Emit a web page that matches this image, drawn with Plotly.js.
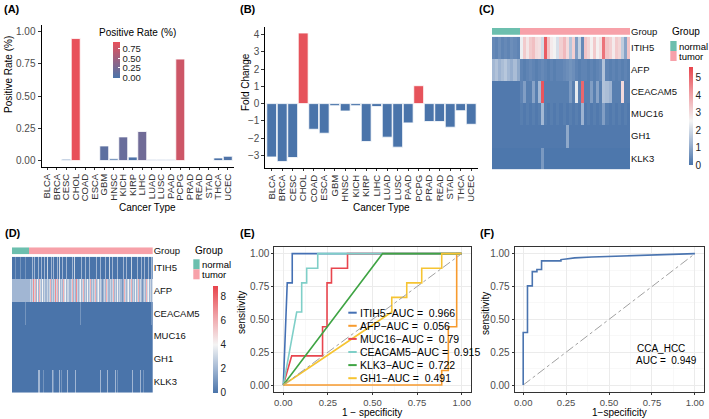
<!DOCTYPE html>
<html><head><meta charset="utf-8">
<script src="https://cdn.plot.ly/plotly-3.0.1.min.js"></script>
<style>html,body{margin:0;padding:0;background:#fff;}#chart{width:709px;height:419px;}</style>
</head><body><div id="chart"></div>
<script>
// ---------------- DATA ----------------
// Panels A & B
const cancers = ['BLCA','BRCA','CESC','CHOL','COAD','ESCA','GBM','HNSC','KICH','KIRP','LIHC','LUAD','LUSC','PAAD','PCPG','PRAD','READ','STAD','THCA','UCEC'];
const positiveRate = [0,0,0.01,0.945,0,0,0.113,0.013,0.183,0.027,0.225,0.006,0.006,0.006,0.786,0,0,0,0.02,0.033];
const foldChange = [-3.1,-3.36,-3.13,4.1,-1.49,-1.72,-0.12,-0.43,-0.12,-2.2,-0.17,-1.95,-2.53,-1.12,1.04,-1.04,-1.04,-1.37,-0.41,-1.2];

// Panel C (CHOL heatmap: 9 normal + 36 tumor columns)
const genes = ['ITIH5','AFP','CEACAM5','MUC16','GH1','KLK3'];
const cholNormalN = 9, cholTumorN = 36;
const cholITIH5 = [0.4,0.3,0.5,0.3,0.4,0.3,0.5,0.4,0.3,
  2.4,3.3,2.8,3.3,3.5,3.0,2.9,2.0,5.2,3.4,2.7,2.5,2.1,3.2,3.6,3.0,1.6,3.2,0.8,1.8,0.4,3.4,3.1,2.6,3.3,2.6,2.9,4.8,3.4,3.2,2.7,3.3,3.1,1.7,0.9,3.4];
const cholAFP = [1.3,1.5,1.2,1.4,1.6,1.3,1.1,1.4,1.0,
  0.3,0.2,0.3,0.4,0.3,0.2,0.3,0.4,0.3,0.2,0.3,0.2,0.3,0.3,0.4,0.5,0.6,0.5,0.3,0.2,0.3,0.3,0.2,0.3,0.2,0.3,0.4,1.5,0.3,0.2,0.3,0.2,0.3,0.2,0.3,0.2];
const cholCEACAM5 = [0.1,0.1,0.1,0.1,0.1,0.1,0.1,0.1,0.1,
  0.3,0.8,0.2,0.2,0.9,0.2,1.3,5.3,0.2,0.2,0.2,0.2,0.2,0.2,0.2,0.2,0.7,0.2,2.3,0.2,5.0,0.2,0.2,0.8,0.2,0.9,0.2,1.5,1.4,1.2,0.2,0.2,0.2,3.0,0.2,0.2];
const cholMUC16 = [0.1,0.1,0.1,0.1,0.1,0.1,0.1,0.1,0.1,
  0.2,0.1,0.2,0.1,0.2,0.1,0.2,1.3,0.2,0.1,0.2,0.1,0.2,0.1,0.2,0.1,0.2,0.1,0.2,0.1,1.2,0.1,0.2,0.1,0.2,0.1,0.2,0.8,0.2,0.1,0.2,0.1,0.2,0.1,0.2,0.1];
const cholGH1 = [0.1,0.1,0.1,0.1,0.1,0.1,0.1,0.1,0.1,
  0.1,0.1,0.1,0.1,0.1,0.1,0.1,0.1,0.1,0.1,0.1,0.1,0.1,0.1,0.1,1.0,0.1,0.1,0.1,0.1,0.1,0.1,0.1,0.1,0.1,0.1,0.1,0.1,0.1,0.1,0.1,0.1,0.1,0.1,0.1,0.1];
const cholKLK3 = [0.05,0.05,0.05,0.05,0.05,0.05,0.05,0.05,0.05,
  0.05,0.05,0.05,0.05,0.05,0.05,0.05,0.7,0.05,0.05,0.05,0.05,0.05,0.05,0.05,0.05,0.05,0.05,0.05,0.05,0.05,0.05,0.05,0.05,0.05,0.05,0.05,0.05,0.05,0.05,0.05,0.05,0.05,0.05,0.05,0.05];

// Panel D (LIHC heatmap, read as visible stripes: 17 normal + 124 tumor columns, one digit per column = value)
const lihcNormalN = 17, lihcTumorN = 124;
const lihcITIH5 = ['0001000010','0001000000','2020002002','0020030002','0200020300','2000200000','2030000002','0002000200','0000200020','0002000300','2000020000','0200200003','0000020002','0020002002','0'].join('');
const lihcAFP = ['2222222222','2222222232','3736242632','4232232362','3237362423','2634233223','6232732342','3623242362','3236234232','1232632232','3623242322','1263234236','2324236232','1232634232','3'].join('');
const lihcCEACAM5 = ['0000000000','0001000000','0000000000','0000000000','0000000000','0000000000','0000000010','0000000000','0000000000','0000000000','0000000000','0000000000','0000000000','0000000001','0'].join('');
const lihcMUC16 = ['0000000000','0000000000','0000000000','0000000000','0000000000','0000000000','0000000000','0000000000','0000000000','0000000000','0000000000','0000000000','0000000000','0000000000','0'].join('');
const lihcGH1 = ['0000000000','0000000000','0000000000','0000000000','0000000000','0000000000','0000000000','0000000000','0000000000','0000000000','0000000000','0000000000','0000000000','0000000000','0'].join('');
const lihcKLK3 = ['0000000000','0000000000','0000002200','0100000000','2100000201','0000020000','0002000000','0000000000','0000000020','0000020000','0002010000','0000000000','2000000020','0100000000','0'].join('');

// Panel E (ROC curves)
const rocLabels = ['ITIH5','AFP','MUC16','CEACAM5','KLK3','GH1'];
const rocAUC = [0.966,0.056,0.79,0.915,0.722,0.491];
const fprITIH5 = [0,0.022,0.05,0.05,1];
const tprITIH5 = [0,0.778,0.778,1,1];
const fprAFP = [0,0.888,0.888,0.925,0.925,0.972,0.972,1];
const tprAFP = [0,0,0.111,0.111,0.444,0.444,1,1];
const fprMUC16 = [0,0.047,0.22,0.22,0.245,0.245,0.27,0.27,0.36,0.36,1];
const tprMUC16 = [0,0.222,0.222,0.444,0.444,0.778,0.778,0.889,0.889,1,1];
const fprCEACAM5 = [0,0.075,0.103,0.103,0.131,0.131,0.193,0.193,1];
const tprCEACAM5 = [0,0.556,0.556,0.778,0.778,0.889,0.889,1,1];
const fprKLK3 = [0,0.556,1];
const tprKLK3 = [0,1,1];
const fprGH1 = [0,0.608,0.608,0.692,0.692,0.776,0.776,0.888,0.888,1];
const tprGH1 = [0,0.556,0.667,0.667,0.778,0.778,0.889,0.889,1,1];

// Panel F (CCA vs HCC ROC)
const fprF = [0,0,0.025,0.025,0.053,0.053,0.08,0.08,0.107,0.107,0.22,0.22,0.25,0.3,0.4,0.5,0.6,0.7,0.8,0.9,1];
const tprF = [0,0.4,0.4,0.755,0.755,0.863,0.863,0.88,0.88,0.945,0.945,0.955,0.96,0.968,0.975,0.98,0.983,0.99,0.994,0.997,1];
const aucF = 0.949;

// ---------------- STYLE ----------------
const W = 709, H = 419;
const px = x => x / W, py = y => 1 - y / H;
const FONT = 'Liberation Sans, Arial, Helvetica, sans-serif';
const TICK = '#4D4D4D';
const BLUE = '#4A74AA', RED = '#E8505A';
const heatScale = [[0,'#4A74AA'],[0.22,'#9FB5D2'],[0.45,'#F4F4F4'],[0.72,'#F0A2A7'],[1,'#E8434B']];
const groupScale = [[0,'#6CBFAE'],[0.5,'#6CBFAE'],[0.5,'#F7A1A9'],[1,'#F7A1A9']];
const rocColors = ['#4470B4','#F79B2E','#E8454E','#7FCFC8','#3FA444','#F6C432'];

const traces = [];
// A
traces.push({type:'bar', x:cancers, y:positiveRate, xaxis:'x', yaxis:'y',
  marker:{color:positiveRate, colorscale:[[0,BLUE],[1,RED]], cmin:0, cmax:Math.max(...positiveRate),
    line:{color:'#fff', width:0.8}, showscale:true,
    colorbar:{x:px(113), xanchor:'left', y:py(77.5), yanchor:'bottom', len:36, lenmode:'pixels',
      thickness:7, thicknessmode:'pixels', xpad:0, ypad:0, outlinewidth:0,
      tickvals:[0,0.25,0.5,0.75], ticktext:['0.00','0.25','0.50','0.75'],
      ticks:'inside', ticklen:2, tickcolor:'#fff', tickfont:{size:9.5, color:'#222', family:FONT}}}});
// B
traces.push({type:'bar', x:cancers, y:foldChange, xaxis:'x2', yaxis:'y2',
  marker:{color:foldChange.map(v => v > 0 ? '#E6535B' : BLUE), line:{color:'#fff', width:0.8}}});

// C
const groupC = Array(cholNormalN).fill(0).concat(Array(cholTumorN).fill(1));
const cholRows = {ITIH5:cholITIH5, AFP:cholAFP, CEACAM5:cholCEACAM5, MUC16:cholMUC16, GH1:cholGH1, KLK3:cholKLK3};
traces.push({type:'heatmap', z:[groupC], y:['Group'], xaxis:'x3', yaxis:'y3', colorscale:groupScale, zmin:0, zmax:1, showscale:false});
traces.push({type:'heatmap', z:genes.map(g => cholRows[g]), y:genes, xaxis:'x4', yaxis:'y4',
  colorscale:heatScale, zmin:0, zmax:5.6, showscale:true,
  colorbar:{x:px(688.5), xanchor:'left', y:py(165), yanchor:'bottom', len:98, lenmode:'pixels',
    thickness:4, thicknessmode:'pixels', xpad:0, ypad:0, outlinewidth:0,
    tickvals:[0,1,2,3,4,5], ticks:'', tickfont:{size:10, color:'#222', family:FONT}}});

// D
const groupD = Array(lihcNormalN).fill(0).concat(Array(lihcTumorN).fill(1));
const lihcRows = {ITIH5:lihcITIH5, AFP:lihcAFP, CEACAM5:lihcCEACAM5, MUC16:lihcMUC16, GH1:lihcGH1, KLK3:lihcKLK3};
traces.push({type:'heatmap', z:[groupD], y:['Group'], xaxis:'x5', yaxis:'y5', colorscale:groupScale, zmin:0, zmax:1, showscale:false});
traces.push({type:'heatmap', z:genes.map(g => lihcRows[g].split('').map(Number)), y:genes, xaxis:'x6', yaxis:'y6',
  colorscale:heatScale, zmin:0, zmax:8.9, showscale:true,
  colorbar:{x:px(213.3), xanchor:'left', y:py(392.5), yanchor:'bottom', len:107, lenmode:'pixels',
    thickness:4.5, thicknessmode:'pixels', xpad:0, ypad:0, outlinewidth:0,
    tickvals:[0,2,4,6,8], ticks:'', tickfont:{size:10, color:'#222', family:FONT}}});

// E
const rocF = [fprITIH5,fprAFP,fprMUC16,fprCEACAM5,fprKLK3,fprGH1];
const rocT = [tprITIH5,tprAFP,tprMUC16,tprCEACAM5,tprKLK3,tprGH1];
rocLabels.forEach((lab,i) => traces.push({type:'scatter', mode:'lines', x:rocF[i], y:rocT[i], xaxis:'x7', yaxis:'y7',
  name:lab, line:{color:rocColors[i], width:1.6}}));
traces.push({type:'scatter', mode:'lines', x:[0,1], y:[0,1], xaxis:'x7', yaxis:'y7', line:{color:'#A0A0A0', width:1, dash:'dashdot'}});

// F
traces.push({type:'scatter', mode:'lines', x:[0,1], y:[0,1], xaxis:'x8', yaxis:'y8', line:{color:'#A0A0A0', width:1, dash:'dashdot'}});
traces.push({type:'scatter', mode:'lines', x:fprF, y:tprF, xaxis:'x8', yaxis:'y8', line:{color:'#4A74B0', width:1.6}});

// ---------------- LAYOUT ----------------
const tf = {size:10, color:TICK, family:FONT};
const catX = (d, anchor) => ({domain:d, anchor:anchor, range:[-0.6,19.6], tickmode:'array', tickvals:cancers, ticktext:cancers,
  tickangle:-90, tickfont:{size:9.5, color:'#333', family:FONT},
  ticks:'outside', ticklen:2, tickcolor:'#333', showline:true, linecolor:'#000', linewidth:1, showgrid:false, zeroline:false});
const hidX = (d, anchor, n) => ({domain:d, anchor:anchor, range:[-0.5, n-0.5], visible:false});
const rowY = (d, anchor, rev) => ({domain:d, anchor:anchor, side:'right', type:'category', autorange: rev ? 'reversed' : true,
  ticks:'', showline:false, showgrid:false, zeroline:false, tickfont:{size:9.5, color:'#111', family:FONT}});
const rocAx = (d, anchor, fs) => ({domain:d, anchor:anchor, range:[-0.05,1.05], tickvals:[0,0.25,0.5,0.75,1],
  ticktext:['0.00','0.25','0.50','0.75','1.00'], tickfont:{size:fs, color:TICK, family:FONT}, ticks:'outside', ticklen:2, tickcolor:'#333',
  showline:true, mirror:true, linecolor:'#333', linewidth:1, zeroline:false,
  showgrid:true, gridcolor:'#EBEBEB', gridwidth:1,
  minor:{tickvals:[0.125,0.375,0.625,0.875], showgrid:true, gridcolor:'#F3F3F3', gridwidth:0.6}});

const layout = {
  width:W, height:H, margin:{l:0,r:0,t:0,b:0}, paper_bgcolor:'#fff', plot_bgcolor:'rgba(0,0,0,0)',
  showlegend:false, bargap:0.06, font:{family:FONT, size:10, color:'#000'},
  xaxis: catX([px(41.5),px(233.5)], 'y'),
  yaxis: {domain:[py(167),py(25)], anchor:'x', range:[-0.05,1.05], tickvals:[0,0.25,0.5,0.75,1],
    ticktext:['0.00','0.25','0.50','0.75','1.00'], tickfont:tf, ticks:'outside', ticklen:3, tickcolor:'#333',
    showline:true, linecolor:'#000', linewidth:1, showgrid:false, zeroline:false},
  xaxis2: catX([px(265.4),px(477.5)], 'y2'),
  yaxis2: {domain:[py(168),py(27)], anchor:'x2', range:[-3.74,4.45], tickvals:[-3,-2,-1,0,1,2,3,4], tickfont:tf,
    ticks:'outside', ticklen:3, tickcolor:'#333', showline:true, linecolor:'#000', linewidth:1, showgrid:false, zeroline:false},
  xaxis3: hidX([px(492),px(630)], 'y3', cholNormalN + cholTumorN),
  yaxis3: rowY([py(34.7),py(28)], 'x3', false),
  xaxis4: hidX([px(492),px(630)], 'y4', cholNormalN + cholTumorN),
  yaxis4: rowY([py(169.3),py(36.7)], 'x4', true),
  xaxis5: hidX([px(12),px(152.7)], 'y5', lihcNormalN + lihcTumorN),
  yaxis5: rowY([py(254.3),py(247.3)], 'x5', false),
  xaxis6: hidX([px(12),px(152.7)], 'y6', lihcNormalN + lihcTumorN),
  yaxis6: rowY([py(392.7),py(256.7)], 'x6', true),
  xaxis7: rocAx([px(274.4),px(470.6)], 'y7', 9.5),
  yaxis7: rocAx([py(391.6),py(247.1)], 'x7', 10),
  xaxis8: rocAx([px(514.6),px(703.5)], 'y8', 9.5),
  yaxis8: rocAx([py(391.6),py(247.1)], 'x8', 10),
  annotations: [], shapes: []
};

const ann = (text, x, y, o) => layout.annotations.push(Object.assign({text:text, x:px(x), y:py(y), xref:'paper', yref:'paper',
  showarrow:false, xanchor:'center', yanchor:'middle', font:{size:10, color:'#000', family:FONT}}, o || {}));
// panel tags
[['(A)',2,9],['(B)',238,9],['(C)',477,9],['(D)',3,233],['(E)',238,233],['(F)',478,233]].forEach(t =>
  ann('<b>'+t[0]+'</b>', t[1], t[2], {xanchor:'left', font:{size:11, color:'#000', family:FONT}}));
// axis titles
ann('Positive Rate (%)', 8, 75, {textangle:-90});
ann('Cancer Type', 147, 207.5);
ann('Positive Rate (%)', 137, 32);
ann('Fold Change', 245, 82, {textangle:-90});
ann('Cancer Type', 381, 207.5);
ann('sensitivity', 241, 313, {textangle:-90});
ann('1 − specificity', 372, 412.5);
ann('sensitivity', 485, 314, {textangle:-90});
ann('1−specificity', 619, 412.5);
// F text
ann('CCA_HCC', 635, 348.3, {xanchor:'left'});
ann('AUC =  ' + aucF, 634, 360.5, {xanchor:'left'});
// E legend
rocLabels.forEach((lab,i) => {
  const yy = 312.7 + i * 13.1;
  layout.shapes.push({type:'line', xref:'paper', yref:'paper', x0:px(348.3), x1:px(356.7), y0:py(yy), y1:py(yy),
    line:{color:rocColors[i], width:2}});
  ann(lab + '−AUC =  ' + rocAUC[i], 358.3, yy, {xanchor:'left', font:{size:10.5, color:'#000', family:FONT}});
});
// Group legends
const groupLegend = (x, yTitle, ySw) => {
  ann('Group', x, yTitle, {xanchor:'left'});
  [['normal','#6CBFAE'],['tumor','#F7A1A9']].forEach((g,i) => {
    layout.shapes.push({type:'rect', xref:'paper', yref:'paper', x0:px(x), x1:px(x+6.3), y0:py(ySw+10*i), y1:py(ySw+10*(i+1)),
      fillcolor:g[1], line:{width:0}});
    ann(g[0], x + 6.8, ySw + 10*i + 5, {xanchor:'left', font:{size:9.5, color:'#000', family:FONT}});
  });
};
groupLegend(670.3, 31.5, 41);
groupLegend(193.3, 250.7, 259.3);

Plotly.newPlot('chart', traces, layout, {staticPlot:true});
</script></body></html>
